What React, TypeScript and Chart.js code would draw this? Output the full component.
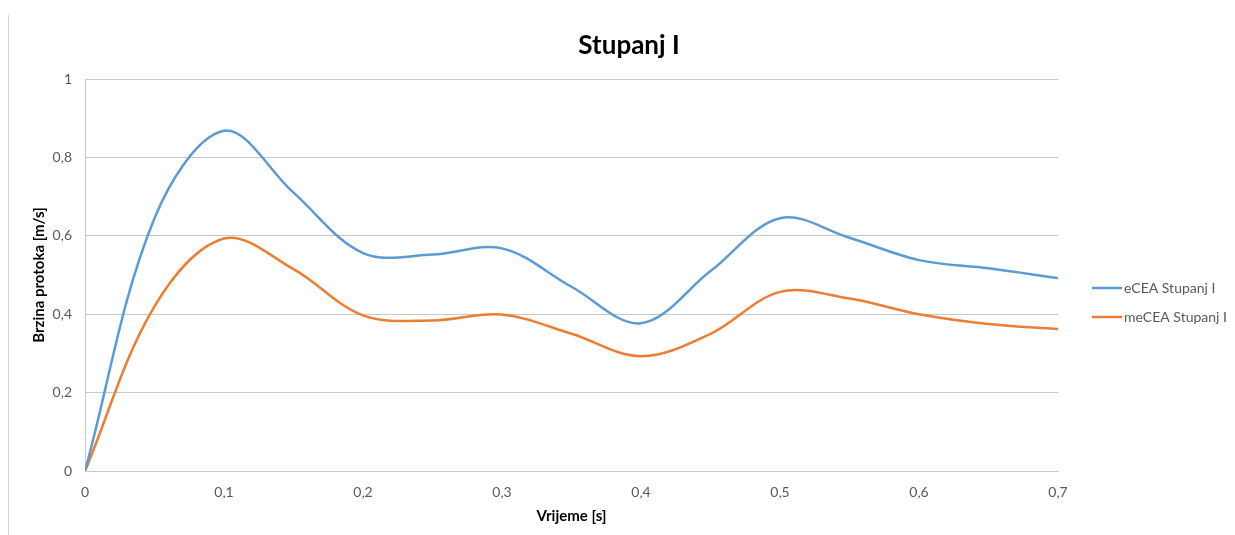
import React, { useEffect, useRef } from 'react';
import { Chart, registerables } from 'chart.js';

Chart.register(...registerables);

// ---- data ----
const timeS = [0, 0.05, 0.1, 0.15, 0.2, 0.25, 0.3, 0.35, 0.4, 0.45, 0.5, 0.55, 0.6, 0.65, 0.7];
const eceaValues = [0, 0.645, 0.868, 0.71, 0.556, 0.552, 0.568, 0.47, 0.377, 0.51, 0.645, 0.595, 0.538, 0.517, 0.492];
const meceaValues = [0, 0.42, 0.593, 0.515, 0.397, 0.384, 0.399, 0.35, 0.293, 0.35, 0.457, 0.44, 0.4, 0.375, 0.362];
const seriesLabels = ['eCEA Stupanj I', 'meCEA Stupanj I'];
const seriesColors = ['#5B9BD5', '#ED7D31'];
const xTickValues = [0, 0.1, 0.2, 0.3, 0.4, 0.5, 0.6, 0.7];
const yTickValues = [0, 0.2, 0.4, 0.6, 0.8, 1];
const chartTitle = 'Stupanj I';
const xAxisTitle = 'Vrijeme [s]';
const yAxisTitle = 'Brzina protoka [m/s]';

const FONT = 'Lato, "Open Sans", sans-serif';

const fmt = (v: number) => String(Number(Number(v).toFixed(2))).replace('.', ',');

const overlayPlugin = {
  id: 'overlay',
  afterDraw(chart: any) {
    const ctx = chart.ctx;
    ctx.save();
    ctx.font = `bold 26px ${FONT}`;
    ctx.fillStyle = '#000000';
    ctx.textAlign = 'center';
    ctx.textBaseline = 'alphabetic';
    ctx.fillText(chartTitle, 629, 54);

    chart.data.datasets.forEach((ds: any, i: number) => {
      const y = 288 + i * 29;
      ctx.strokeStyle = ds.borderColor;
      ctx.lineWidth = 2.5;
      ctx.beginPath();
      ctx.moveTo(1092, y);
      ctx.lineTo(1122, y);
      ctx.stroke();
      ctx.font = `14px ${FONT}`;
      ctx.fillStyle = '#595959';
      ctx.textAlign = 'left';
      ctx.textBaseline = 'middle';
      ctx.fillText(ds.label, 1124, y);
    });
    ctx.restore();
  },
};

export default function App() {
  const canvasRef = useRef<HTMLCanvasElement | null>(null);

  useEffect(() => {
    if (!canvasRef.current) return;
    const series = [eceaValues, meceaValues];
    const chart = new Chart(canvasRef.current, {
      type: 'line',
      data: {
        datasets: series.map((vals, i) => ({
          label: seriesLabels[i],
          data: timeS.map((t, j) => ({ x: t, y: vals[j] })),
          borderColor: seriesColors[i],
          backgroundColor: seriesColors[i],
          borderWidth: 2.5,
          pointRadius: 0,
          tension: 0.35,
          fill: false,
        })),
      },
      options: {
        responsive: false,
        animation: false,
        layout: { padding: { left: 0, top: 79, right: 177, bottom: 0 } },
        plugins: {
          legend: { display: false },
          title: { display: false },
          tooltip: { enabled: false },
        },
        scales: {
          x: {
            type: 'linear',
            min: 0,
            max: 0.7,
            afterFit: (s: any) => { s.height = 64; },
            afterBuildTicks: (s: any) => { s.ticks = xTickValues.map((v) => ({ value: v })); },
            grid: { display: false, drawTicks: false },
            border: { display: true, color: '#c8c8c8', width: 1 },
            ticks: {
              padding: 13,
              color: '#595959',
              font: { family: FONT, size: 14 },
              callback: (v: any) => fmt(v),
              maxRotation: 0,
            },
            title: {
              display: true,
              text: xAxisTitle,
              color: '#000000',
              font: { family: FONT, size: 15, weight: 'bold' },
              padding: { top: 0, bottom: 10 },
            },
          },
          y: {
            type: 'linear',
            min: 0,
            max: 1,
            afterFit: (s: any) => { s.width = 85; },
            afterBuildTicks: (s: any) => { s.ticks = yTickValues.map((v) => ({ value: v })); },
            grid: { display: true, color: '#c8c8c8', drawTicks: false, lineWidth: 1 },
            border: { display: true, color: '#c8c8c8', width: 1 },
            ticks: {
              padding: 13,
              color: '#595959',
              font: { family: FONT, size: 14 },
              callback: (v: any) => fmt(v),
            },
            title: {
              display: true,
              text: yAxisTitle,
              color: '#000000',
              font: { family: FONT, size: 15, weight: 'bold' },
              padding: { top: 30, bottom: 0 },
            },
          },
        },
      },
      plugins: [overlayPlugin],
    } as any);
    return () => chart.destroy();
  }, []);

  return (
    <div style={{ position: 'absolute', left: 0, top: 0, width: 1235, height: 535, background: '#ffffff' }}>
      <div style={{ position: 'absolute', left: 8, top: 15, width: 1, height: 520, background: '#d0d0d0' }} />
      <canvas ref={canvasRef} width={1235} height={535} style={{ position: 'absolute', left: 0, top: 0, width: 1235, height: 535 }} />
    </div>
  );
}
